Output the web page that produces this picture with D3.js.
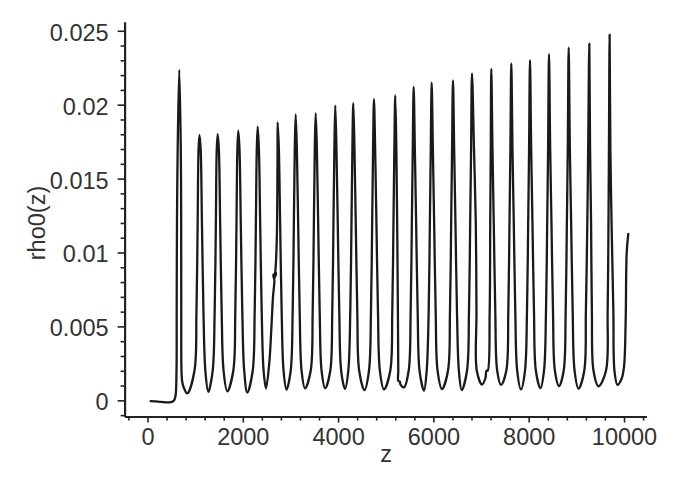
<!DOCTYPE html>
<html><head><meta charset="utf-8">
<script src="https://cdn.jsdelivr.net/npm/d3@7"></script>
<style>html,body{margin:0;padding:0;background:#fff;} svg{display:block;}</style>
</head><body>
<svg id="chart" width="673" height="487"></svg>
<script>
// ---- data (z, rho0) ----
const peakZ = [667,1091,1473,1906,2313,2732,3110,3530,3941,4319,4753,5200,5586,5964,6411,6810,7215,7635,8027,8426,8839,9272,9698];
const peakV = [0.02235,0.01795,0.0180,0.01824,0.01851,0.01881,0.01935,0.01942,0.01993,0.02010,0.02037,0.02064,0.02120,0.02149,0.02165,0.02212,0.02242,0.02280,0.02302,0.02341,0.02386,0.02413,0.02474];
const troughZ = [835,1276,1675,2094,2487,2917,3305,3729,4145,4554,4963,5383,5803,6180,6594,7020,7419,7838,8247,8636,9045,9465,9863];
const troughV = [0.00047,0.00058,0.00061,0.00053,0.0008,0.00073,0.00081,0.00082,0.00078,0.0007,0.00074,0.00088,0.00066,0.00076,0.0007,0.00107,0.00104,0.00074,0.00083,0.00097,0.0008,0.00095,0.00104];
// z where each spike crosses the levels below on its rising / falling side
const edgeLevels = [0.002, 0.006, 0.012, 0.017];
const rise002 = [609,986,1368,1801,2208,null,3005,3425,3836,4214,4648,5095,5481,5859,6306,6705,7139,7530,7922,8321,8734,9166,9622];
const rise006 = [613,1028,1410,1843,2250,null,3047,3467,3878,4256,4690,5137,5523,5901,6348,6747,7181,7572,7964,8363,8776,9200,9657];
const rise012 = [619,1053,1435,1868,2275,null,3072,3492,3903,4281,4715,5162,5548,5926,6373,6772,7193,7597,7989,8388,8801,9230,9674];
const rise017 = [634,1072,1454,1887,2294,null,3091,3511,3922,4300,4734,5181,5567,5945,6392,6791,7204,7616,8008,8407,8820,9248,9684];
const fall017 = [699,1116,1498,1931,2338,2757,3135,3555,3966,4344,4778,5223,5611,5989,6436,6852,7240,7660,8052,8451,8864,9288,9714];
const fall012 = [707,1143,1525,1958,2365,2784,3162,3582,3993,4371,4805,5240,5638,6016,6463,6890,7267,7687,8079,8478,8891,9309,9739];
const fall006 = [709,1175,1557,1990,2397,2816,3194,3614,4025,4403,4837,5255,5670,6048,6495,6904,7299,7719,8111,8510,8923,9326,9777];
const fall002 = [714,1215,1597,2030,2437,2856,3234,3654,4065,4443,4877,5263,5710,6088,6535,6911,7339,7759,8151,8550,8963,9360,9800];
// irregular pieces
const startZ = [67,220,367,493,556,588];
const startV = [-0.00005,-0.00008,-0.00013,-0.00012,-0.00001,0.00029];
const hook1Z = [730,766];
const hook1V = [0.00124,0.00083];
const spike6RiseZ = [2556,2598,2634,2663,2642,2697,2667,2686,2703,2718,2726,2730];
const spike6RiseV = [0.00252,0.00476,0.00701,0.00814,0.00848,0.00861,0.00827,0.00882,0.00983,0.01152,0.0149,0.017];
const kink12Z = [5263,5295,5310];
const kink12V = [0.00131,0.00127,0.00107];
const kink16Z = [7093,7112];
const kink16V = [0.00151,0.00200];
const endZ = [9947,10000,10035,10056,10090];
const endV = [0.00144,0.00227,0.00543,0.00997,0.01126];
// axes
const xMajor = [0,2000,4000,6000,8000,10000];
const xLabels = ['0','2000','4000','6000','8000','10000'];
const yMajor = [0,0.005,0.01,0.015,0.02,0.025];
const yLabels = ['0','0.005','0.01','0.015','0.02','0.025'];
const xTitle = 'z', yTitle = 'rho0(z)';

// ---- drawing ----
const W = 673, H = 487;
const FONT = '"Liberation Sans", Arial, Helvetica, sans-serif';
const FS = '23.5px';
const x = d3.scaleLinear().domain([-480, 10470]).range([124.6, 646.4]);
const y = d3.scaleLinear().domain([-0.0011, 0.0256]).range([416.6, 21.9]);
const svg = d3.select('#chart');
svg.append('rect').attr('width', W).attr('height', H).attr('fill', '#fff');

const pts = [];
const addSeq = (zs, vs) => zs.forEach((z, k) => pts.push([z, vs[k]]));
addSeq(startZ, startV);
for (let i = 0; i < peakZ.length; i++) {
  if (i === 5) addSeq(spike6RiseZ, spike6RiseV);
  else addSeq([rise002[i], rise006[i], rise012[i], rise017[i]], edgeLevels);
  pts.push([peakZ[i], peakV[i]]);
  addSeq([fall017[i], fall012[i], fall006[i], fall002[i]], edgeLevels.slice().reverse());
  if (i === 0) addSeq(hook1Z, hook1V);
  if (i === 11) addSeq(kink12Z, kink12V);
  pts.push([troughZ[i], troughV[i]]);
  if (i === 15) addSeq(kink16Z, kink16V);
}
addSeq(endZ, endV);

const xMinor = d3.range(-400, 10401, 400).filter(v => v % 2000 !== 0);
const yMinor = d3.range(-1, 26, 1).filter(v => v % 5 !== 0).map(v => v / 1000);

function styleAxis(g) {
  g.select('.domain').attr('stroke', '#222').attr('stroke-width', 2);
  g.selectAll('.tick line').attr('stroke', '#222').attr('stroke-width', 1.6);
  g.selectAll('.tick text').attr('fill', '#333').style('font-family', FONT).style('font-size', FS);
}

const gyMin = svg.append('g').attr('transform', `translate(${x(-480)},0)`)
  .call(d3.axisLeft(y).tickValues(yMinor).tickSize(4).tickFormat('').tickSizeOuter(0));
styleAxis(gyMin);
const gy = svg.append('g').attr('transform', `translate(${x(-480)},0)`)
  .call(d3.axisLeft(y).tickValues(yMajor).tickSize(7).tickPadding(9).tickSizeOuter(0)
    .tickFormat((d, i) => yLabels[i]));
styleAxis(gy);
gy.selectAll('.tick text').attr('dy', '0.4em');

const gxMin = svg.append('g').attr('transform', `translate(0,${y(-0.0011)})`)
  .call(d3.axisBottom(x).tickValues(xMinor).tickSize(4).tickFormat('').tickSizeOuter(0));
styleAxis(gxMin);
const gx = svg.append('g').attr('transform', `translate(0,${y(-0.0011)})`)
  .call(d3.axisBottom(x).tickValues(xMajor).tickSize(6).tickPadding(6).tickSizeOuter(0)
    .tickFormat((d, i) => xLabels[i]));
styleAxis(gx);

const line = d3.line().x(d => x(d[0])).y(d => y(d[1])).curve(d3.curveCatmullRom.alpha(0.5));
svg.append('path').datum(pts).attr('d', line)
  .attr('fill', 'none').attr('stroke', '#1a1a1a').attr('stroke-width', 2.3)
  .attr('stroke-linejoin', 'round').attr('stroke-linecap', 'round');

svg.append('text').attr('transform', 'translate(45,223) rotate(-90)')
  .attr('text-anchor', 'middle').attr('fill', '#333')
  .style('font-family', FONT).style('font-size', FS).text(yTitle);
svg.append('text').attr('x', 386).attr('y', 462)
  .attr('text-anchor', 'middle').attr('fill', '#333')
  .style('font-family', FONT).style('font-size', FS).text(xTitle);
</script>
</body></html>
